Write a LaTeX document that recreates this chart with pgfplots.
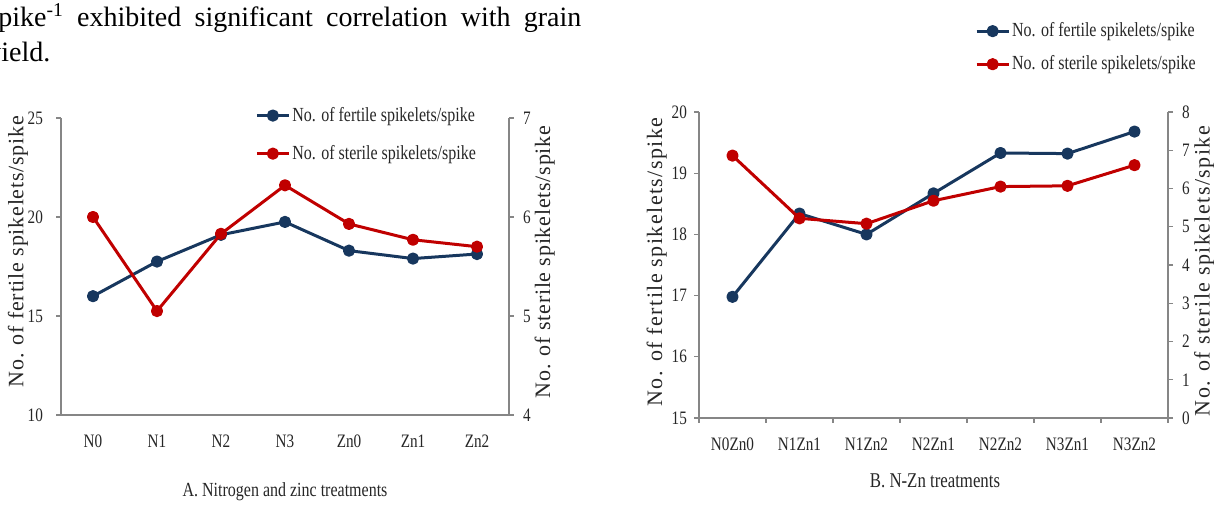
\documentclass[border=0pt]{standalone}
\usepackage{fontspec}
\setmainfont{Liberation Serif}
\newfontfamily\narrowfont{Liberation Serif}[FakeStretch=0.8]
\newfontfamily\labA{Liberation Serif}[LetterSpace=3.5]
\newfontfamily\labB{Liberation Serif}[LetterSpace=6.5]
\usepackage{pgfplots}
\pgfplotsset{compat=1.18}

\definecolor{fert}{RGB}{23,55,94}
\definecolor{ster}{RGB}{192,0,0}
\definecolor{axgray}{RGB}{134,134,134}

\pgfplotsset{
  base/.style={
    scale only axis, anchor=south west, clip=false,
    xmin=-0.5, xmax=6.5,
    axis line style={axgray, line width=0.6pt},
    tick style={axgray, line width=0.6pt},
    tick align=outside, major tick length=2.5pt,
    tick label style={font=\narrowfont\fontsize{9.5}{10}\selectfont, text=black!85},
    /pgf/number format/assume math mode=true,
  },
  fertline/.style={fert, line width=1.5pt, line join=round, mark=*, mark size=2.3pt, mark options={fill=fert, solid}},
  sterline/.style={ster, line width=1.5pt, line join=round, mark=*, mark size=2.3pt, mark options={fill=ster, solid}},
  leg/.style={
    legend style={draw=none, fill=none, inner sep=0pt, anchor=north west,
      font=\narrowfont\fontsize{10}{11}\selectfont, text=black!85,
      nodes={inner sep=1pt}},
    legend cell align=left,
    legend image code/.code={\draw[mark repeat=2, mark phase=2] plot coordinates {(0pt,0pt) (8pt,0pt) (16pt,0pt)};},
  },
}

\begin{document}
\begin{tikzpicture}
\useasboundingbox (0,0) rectangle (607pt,253pt);

% running text above the charts
\node[anchor=base west, inner sep=0pt] at (-6.5pt,239.5pt)
  {\parbox[t]{297pt}{\fontsize{14}{17.5}\selectfont spike\textsuperscript{-1} exhibited significant correlation with grain\linebreak yield.}};

% ---------------- A ----------------
\begin{axis}[base, at={(30.5pt,45.5pt)}, width=224pt, height=148.5pt,
  axis x line*=bottom, axis y line*=left,
  ymin=10, ymax=25, ytick={10,15,20,25},
  xtick={0,...,6}, xticklabels={N0,N1,N2,N3,Zn0,Zn1,Zn2},
  xtick style={draw=none},
  xticklabel style={yshift=-4pt},
  yticklabel style={xshift=-3pt},
  ylabel={No. of fertile spikelets/spike},
  every axis y label/.style={at={(axis description cs:-0.096,0.55)}, anchor=center, rotate=90,
    font=\labA\fontsize{11}{12}\selectfont, text=black!85},
]
\addplot[fertline] coordinates {(0,16.0) (1,17.75) (2,19.1) (3,19.75) (4,18.3) (5,17.9) (6,18.13)};
\end{axis}
\begin{axis}[base, leg, at={(30.5pt,45.5pt)}, width=224pt, height=148.5pt,
  axis x line=none, axis y line*=right,
  ymin=4, ymax=7, ytick={4,5,6,7},
  yticklabel style={xshift=1pt},
  ylabel={No. of sterile spikelets/spike},
  every axis y label/.style={at={(axis description cs:1.08,0.515)}, anchor=center, rotate=90,
    font=\labA\fontsize{11}{12}\selectfont, text=black!85},
  legend style={at={(axis description cs:0.433,1.045)}, row sep=8.5pt},
]
\addlegendimage{fertline}
\addlegendentry{No. of fertile spikelets/spike}
\addplot[sterline] coordinates {(0,6.0) (1,5.05) (2,5.83) (3,6.32) (4,5.93) (5,5.77) (6,5.70)};
\addlegendentry{No. of sterile spikelets/spike}
\end{axis}
\node[font=\narrowfont\fontsize{10}{11}\selectfont, text=black!85] at (142.5pt,7pt) {A. Nitrogen and zinc treatments};

% ---------------- B ----------------
\begin{axis}[base, at={(349.5pt,44pt)}, width=234.5pt, height=153pt,
  axis x line*=bottom, axis y line*=left,
  ymin=15, ymax=20, ytick={15,16,17,18,19,20},
  xtick={-0.5,0.5,1.5,2.5,3.5,4.5,5.5,6.5},
  xticklabels={N0Zn0,N1Zn1,N1Zn2,N2Zn1,N2Zn2,N3Zn1,N3Zn2},
  x tick label as interval,
  xticklabel style={yshift=-4pt},
  ylabel={No. of fertile spikelets/spike},
  every axis y label/.style={at={(axis description cs:-0.09,0.51)}, anchor=center, rotate=90,
    font=\labB\fontsize{11}{12}\selectfont, text=black!85},
]
\addplot[fertline] coordinates {(0,16.98) (1,18.34) (2,18.0) (3,18.67) (4,19.33) (5,19.32) (6,19.68)};
\end{axis}
\begin{axis}[base, leg, at={(349.5pt,44pt)}, width=234.5pt, height=153pt,
  axis x line=none, axis y line*=right,
  ymin=0, ymax=8, ytick={0,...,8},
  yticklabel style={xshift=1pt},
  ylabel={No. of sterile spikelets/spike},
  every axis y label/.style={at={(axis description cs:1.077,0.48)}, anchor=center, rotate=90,
    font=\labB\fontsize{11}{12}\selectfont, text=black!85},
  legend style={at={(axis description cs:0.588,1.30)}, row sep=6pt},
]
\addlegendimage{fertline}
\addlegendentry{No. of fertile spikelets/spike}
\addplot[sterline] coordinates {(0,6.86) (1,5.22) (2,5.08) (3,5.68) (4,6.05) (5,6.07) (6,6.61)};
\addlegendentry{No. of sterile spikelets/spike}
\end{axis}
\node[font=\narrowfont\fontsize{10.5}{11}\selectfont, text=black!85] at (467.5pt,12.5pt) {B. N-Zn treatments};
\end{tikzpicture}
\end{document}
